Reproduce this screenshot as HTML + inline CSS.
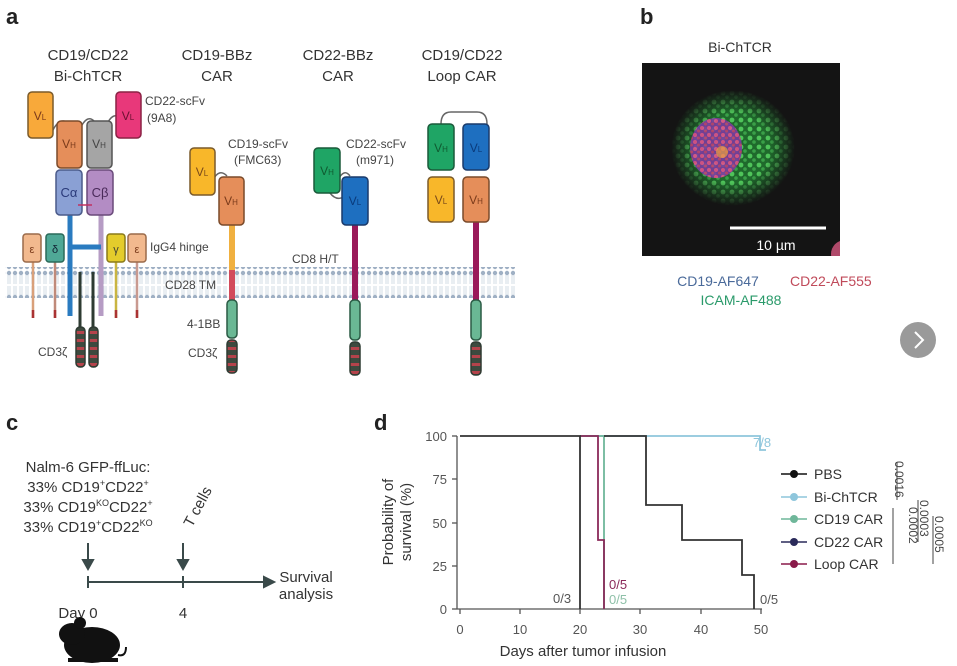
<!DOCTYPE html>
<html><head><meta charset="utf-8"><style>
html,body{margin:0;padding:0;background:#fff}
svg{display:block;font-family:"Liberation Sans",Arial,sans-serif}
</style></head><body>
<svg width="957" height="666" viewBox="0 0 957 666" xmlns="http://www.w3.org/2000/svg">
<defs>
<pattern id="mem" width="6" height="30" patternUnits="userSpaceOnUse">
<circle cx="3" cy="3" r="2.2" fill="#9fb0c4"/><circle cx="3" cy="27" r="2.2" fill="#9fb0c4"/>
<line x1="2" y1="5" x2="2" y2="14" stroke="#c8d3df" stroke-width="0.8"/><line x1="4" y1="5" x2="4" y2="14" stroke="#c8d3df" stroke-width="0.8"/>
<line x1="2" y1="16" x2="2" y2="25" stroke="#c8d3df" stroke-width="0.8"/><line x1="4" y1="16" x2="4" y2="25" stroke="#c8d3df" stroke-width="0.8"/>
</pattern>
<pattern id="z" width="8" height="8" patternUnits="userSpaceOnUse"><rect width="8" height="8" fill="#3d4a3f"/><rect y="3" width="8" height="3" fill="#b5434b"/></pattern>
<pattern id="spk" width="9" height="9" patternUnits="userSpaceOnUse"><rect width="9" height="9" fill="#1f6a2c"/><circle cx="3" cy="3" r="2.4" fill="#4fc45a"/><circle cx="7" cy="7" r="1.8" fill="#3aa048"/></pattern>
<pattern id="spk2" width="7" height="7" patternUnits="userSpaceOnUse"><rect width="7" height="7" fill="#7a3aa0"/><circle cx="2" cy="2" r="2" fill="#e0508a"/><circle cx="5.5" cy="5" r="1.5" fill="#c04070"/></pattern>
<radialGradient id="fade" cx="50%" cy="50%" r="50%"><stop offset="0.6" stop-color="#fff" stop-opacity="1"/><stop offset="1" stop-color="#fff" stop-opacity="0"/></radialGradient>
<mask id="fm"><ellipse cx="733" cy="148" rx="62" ry="58" fill="url(#fade)"/></mask>
<clipPath id="imgc"><rect x="642" y="63" width="198" height="193"/></clipPath>
</defs>
<g font-weight="bold" font-size="22" fill="#222"><text x="6" y="24">a</text><text x="640" y="24">b</text><text x="6" y="430">c</text><text x="374" y="430">d</text></g>

<rect x="5" y="267" width="510" height="31" fill="url(#mem)"/>

<g font-size="15" fill="#333" text-anchor="middle">
<text x="88" y="60">CD19/CD22</text><text x="88" y="81">Bi-ChTCR</text>
<text x="217" y="60">CD19-BBz</text><text x="217" y="81">CAR</text>
<text x="338" y="60">CD22-BBz</text><text x="338" y="81">CAR</text>
<text x="462" y="60">CD19/CD22</text><text x="462" y="81">Loop CAR</text>
</g>

<g stroke-width="1.5">
<line x1="33" y1="262" x2="33" y2="318" stroke="#d9a07a" stroke-width="2.5"/>
<line x1="55" y1="262" x2="55" y2="318" stroke="#c08a7a" stroke-width="2.5"/>
<line x1="116" y1="262" x2="116" y2="318" stroke="#c9b542" stroke-width="2.5"/>
<line x1="137" y1="262" x2="137" y2="318" stroke="#c99a90" stroke-width="2.5"/>
<g stroke="#a33" stroke-width="2.5"><line x1="33" y1="310" x2="33" y2="318"/><line x1="55" y1="310" x2="55" y2="318"/><line x1="116" y1="310" x2="116" y2="318"/><line x1="137" y1="310" x2="137" y2="318"/></g>
<line x1="70" y1="214" x2="70" y2="316" stroke="#2a7bc0" stroke-width="5"/>
<line x1="101" y1="214" x2="101" y2="316" stroke="#b69cc4" stroke-width="5"/>
<line x1="70" y1="247" x2="101" y2="247" stroke="#2a7bc0" stroke-width="5"/>
<line x1="80" y1="272" x2="80" y2="330" stroke="#2e3b32" stroke-width="3"/>
<line x1="93" y1="272" x2="93" y2="330" stroke="#2e3b32" stroke-width="3"/>
<rect x="76" y="327" width="9" height="40" rx="4" fill="url(#z)" stroke="#2e3b32"/>
<rect x="89" y="327" width="9" height="40" rx="4" fill="url(#z)" stroke="#2e3b32"/>
<rect x="23" y="234" width="18" height="28" rx="3" fill="#f2b98e" stroke="#9a6a4a"/>
<rect x="46" y="234" width="18" height="28" rx="3" fill="#4fa896" stroke="#2a6a5a"/>
<rect x="107" y="234" width="18" height="28" rx="3" fill="#e4cc2c" stroke="#8a7a1a"/>
<rect x="128" y="234" width="18" height="28" rx="3" fill="#f2b98e" stroke="#9a6a4a"/>
<path d="M53 130 q6 -12 14 -8 M82 125 q6 -10 12 -4 M108 122 q6 -10 12 -4" fill="none" stroke="#666"/>
<rect x="28" y="92" width="25" height="46" rx="4" fill="#f8a93a" stroke="#7a5a2a"/>
<rect x="116" y="92" width="25" height="46" rx="4" fill="#e8387a" stroke="#8a2244"/>
<rect x="57" y="121" width="25" height="47" rx="4" fill="#e58e5a" stroke="#7a4a2a"/>
<rect x="87" y="121" width="25" height="47" rx="4" fill="#a5a5a5" stroke="#555"/>
<rect x="56" y="170" width="26" height="45" rx="4" fill="#8aa0d4" stroke="#4a5a8a"/>
<rect x="87" y="170" width="26" height="45" rx="4" fill="#b38cc4" stroke="#6a4a7a"/>
<line x1="78" y1="205" x2="92" y2="205" stroke="#c03060"/>
</g>
<g font-size="12" fill="#7a3a1a" text-anchor="middle">
<text x="40" y="120">V<tspan font-size="8">L</tspan></text><text x="128" y="120" fill="#6a1030">V<tspan font-size="8">L</tspan></text>
<text x="69" y="148">V<tspan font-size="8">H</tspan></text><text x="99" y="148" fill="#444">V<tspan font-size="8">H</tspan></text>
<text x="69" y="197" fill="#2a3a7a" font-size="13">Cα</text><text x="100" y="197" fill="#4a2a5a" font-size="13">Cβ</text>
<text x="32" y="253" font-size="11">ε</text><text x="55" y="253" font-size="11" fill="#123">δ</text><text x="116" y="253" font-size="11" fill="#443">γ</text><text x="137" y="253" font-size="11">ε</text>
</g>
<g font-size="12" fill="#444">
<text x="145" y="105">CD22-scFv</text><text x="147" y="122">(9A8)</text>
<text x="150" y="251">IgG4 hinge</text>
<text x="38" y="356">CD3ζ</text>
<text x="228" y="148">CD19-scFv</text><text x="234" y="164">(FMC63)</text>
<text x="165" y="289">CD28 TM</text>
<text x="187" y="328">4-1BB</text>
<text x="188" y="357">CD3ζ</text>
<text x="346" y="148">CD22-scFv</text><text x="356" y="164">(m971)</text>
<text x="292" y="263">CD8 H/T</text>
</g>

<g stroke-width="1.5">
<line x1="232" y1="224" x2="232" y2="270" stroke="#f0b040" stroke-width="6"/>
<line x1="232" y1="270" x2="232" y2="300" stroke="#d24a5a" stroke-width="6"/>
<rect x="227" y="300" width="10" height="38" rx="4" fill="#6ab894" stroke="#2a5a44"/>
<rect x="227" y="340" width="10" height="33" rx="4" fill="url(#z)" stroke="#2e3b32"/>
<path d="M213 180 q6 -12 14 -4" fill="none" stroke="#666"/>
<rect x="190" y="148" width="25" height="47" rx="4" fill="#f8b72a" stroke="#7a5a2a"/>
<rect x="219" y="177" width="25" height="48" rx="4" fill="#e58e5a" stroke="#7a4a2a"/>
</g>
<g stroke-width="1.5">
<line x1="355" y1="224" x2="355" y2="300" stroke="#9a1a5a" stroke-width="6"/>
<rect x="350" y="300" width="10" height="40" rx="4" fill="#6ab894" stroke="#2a5a44"/>
<rect x="350" y="342" width="10" height="33" rx="4" fill="url(#z)" stroke="#2e3b32"/>
<path d="M338 180 q6 -12 12 -4 M330 193 q6 8 14 4" fill="none" stroke="#666"/>
<rect x="314" y="148" width="26" height="45" rx="4" fill="#1fa565" stroke="#1a5a3a"/>
<rect x="342" y="177" width="26" height="48" rx="4" fill="#1e6fc0" stroke="#1a3a6a"/>
</g>
<g stroke-width="1.5">
<line x1="476" y1="222" x2="476" y2="300" stroke="#9a1a5a" stroke-width="6"/>
<rect x="471" y="300" width="10" height="40" rx="4" fill="#6ab894" stroke="#2a5a44"/>
<rect x="471" y="342" width="10" height="33" rx="4" fill="url(#z)" stroke="#2e3b32"/>
<path d="M441 124 q0 -12 10 -12 h26 q10 0 10 12" fill="none" stroke="#666"/>
<rect x="428" y="124" width="26" height="46" rx="4" fill="#1fa565" stroke="#1a5a3a"/>
<rect x="463" y="124" width="26" height="46" rx="4" fill="#1e6fc0" stroke="#1a3a6a"/>
<rect x="428" y="177" width="26" height="45" rx="4" fill="#f8b72a" stroke="#7a5a2a"/>
<rect x="463" y="177" width="26" height="45" rx="4" fill="#e58e5a" stroke="#7a4a2a"/>
</g>
<g font-size="12" text-anchor="middle">
<text x="202" y="176" fill="#7a4a1a">V<tspan font-size="8">L</tspan></text><text x="231" y="205" fill="#7a3a1a">V<tspan font-size="8">H</tspan></text>
<text x="327" y="175" fill="#0f5a30">V<tspan font-size="8">H</tspan></text><text x="355" y="205" fill="#0a3a7a">V<tspan font-size="8">L</tspan></text>
<text x="441" y="152" fill="#0f5a30">V<tspan font-size="8">H</tspan></text><text x="476" y="152" fill="#0a3a7a">V<tspan font-size="8">L</tspan></text>
<text x="441" y="204" fill="#7a4a1a">V<tspan font-size="8">L</tspan></text><text x="476" y="204" fill="#7a3a1a">V<tspan font-size="8">H</tspan></text>
</g>

<text x="740" y="52" font-size="14" fill="#333" text-anchor="middle">Bi-ChTCR</text>
<g clip-path="url(#imgc)">
<rect x="642" y="63" width="198" height="193" fill="#141414"/>
<ellipse cx="733" cy="148" rx="62" ry="58" fill="url(#spk)" mask="url(#fm)"/>
<ellipse cx="716" cy="148" rx="26" ry="30" fill="url(#spk2)" opacity="0.9"/>
<circle cx="722" cy="152" r="6" fill="#e8a040" opacity="0.7"/>
<circle cx="845" cy="254" r="14" fill="#b04a6a"/>
</g>
<line x1="730" y1="228" x2="826" y2="228" stroke="#fff" stroke-width="3"/>
<text x="776" y="250" font-size="14" fill="#fff" text-anchor="middle">10 µm</text>
<text x="718" y="286" font-size="14" fill="#4a6a9a" text-anchor="middle">CD19-AF647</text>
<text x="790" y="286" font-size="14" fill="#c04a5a">CD22-AF555</text>
<text x="741" y="305" font-size="14" fill="#2a9a6a" text-anchor="middle">ICAM-AF488</text>
<circle cx="918" cy="340" r="18" fill="#9a9a9a"/>
<path d="M915 332 l8 8 l-8 8" fill="none" stroke="#fff" stroke-width="2"/>

<g font-size="15" fill="#333" text-anchor="middle">
<text x="88" y="472">Nalm-6 GFP-ffLuc:</text>
<text x="88" y="492">33% CD19<tspan font-size="9" dy="-6">+</tspan><tspan dy="6">CD22</tspan><tspan font-size="9" dy="-6">+</tspan></text>
<text x="88" y="512">33% CD19<tspan font-size="9" dy="-6">KO</tspan><tspan dy="6">CD22</tspan><tspan font-size="9" dy="-6">+</tspan></text>
<text x="88" y="532">33% CD19<tspan font-size="9" dy="-6">+</tspan><tspan dy="6">CD22</tspan><tspan font-size="9" dy="-6">KO</tspan></text>
<text transform="translate(192,528) rotate(-62)" text-anchor="start">T cells</text>
<text x="78" y="618">Day 0</text><text x="183" y="618">4</text>
<text x="306" y="582">Survival</text><text x="306" y="599">analysis</text>
</g>
<g stroke="#3a4a4a" stroke-width="2" fill="#3a4a4a">
<line x1="88" y1="543" x2="88" y2="563"/><path d="M83 560 l5 9 l5 -9z"/>
<line x1="183" y1="543" x2="183" y2="563"/><path d="M178 560 l5 9 l5 -9z"/>
<line x1="88" y1="582" x2="266" y2="582"/><path d="M264 577 l10 5 l-10 5z"/>
<line x1="88" y1="576" x2="88" y2="588"/><line x1="183" y1="576" x2="183" y2="588"/>
</g>
<g fill="#111">
<ellipse cx="92" cy="645" rx="28" ry="18"/>
<ellipse cx="72" cy="634" rx="13" ry="11"/>
<circle cx="80" cy="623" r="6"/>
<path d="M118 655 q8 2 8 -8" fill="none" stroke="#111" stroke-width="2"/>
<rect x="68" y="658" width="50" height="4"/>
</g>

<g stroke="#555" stroke-width="1.3" fill="none">
<line x1="457" y1="436" x2="457" y2="609"/>
<line x1="457" y1="609" x2="762" y2="609"/>
<line x1="452" y1="436" x2="457" y2="436"/><line x1="452" y1="479" x2="457" y2="479"/><line x1="452" y1="523" x2="457" y2="523"/><line x1="452" y1="566" x2="457" y2="566"/><line x1="452" y1="609" x2="457" y2="609"/>
<line x1="460" y1="609" x2="460" y2="614"/><line x1="520" y1="609" x2="520" y2="614"/><line x1="580" y1="609" x2="580" y2="614"/><line x1="640" y1="609" x2="640" y2="614"/><line x1="701" y1="609" x2="701" y2="614"/><line x1="761" y1="609" x2="761" y2="614"/>
</g>
<g font-size="13" fill="#555">
<g text-anchor="end"><text x="447" y="441">100</text><text x="447" y="484">75</text><text x="447" y="528">50</text><text x="447" y="571">25</text><text x="447" y="614">0</text></g>
<g text-anchor="middle"><text x="460" y="634">0</text><text x="520" y="634">10</text><text x="580" y="634">20</text><text x="640" y="634">30</text><text x="701" y="634">40</text><text x="761" y="634">50</text></g>
</g>
<text x="583" y="656" font-size="15" fill="#333" text-anchor="middle">Days after tumor infusion</text>
<text transform="translate(393,522) rotate(-90)" font-size="15" fill="#333" text-anchor="middle">Probability of</text>
<text transform="translate(411,522) rotate(-90)" font-size="15" fill="#333" text-anchor="middle">survival (%)</text>
<g fill="none" stroke-width="1.8">
<polyline points="580,436 760,436 760,450 766,450" stroke="#8ec6dc"/>
<polyline points="580,436 604,436 604,609" stroke="#6fb79a"/>
<polyline points="580,436 598,436 598,540 604,540 604,609" stroke="#8a2a5a"/>
<polyline points="460,436 580,436 580,609" stroke="#333"/>
<polyline points="604,436 646,436 646,505 682,505 682,540 742,540 742,575 754,575 754,609" stroke="#333"/>
</g>
<g font-size="13">
<text x="753" y="447" fill="#8ec6dc">7/8</text>
<text x="553" y="603" fill="#555">0/3</text>
<text x="609" y="589" fill="#8a2a5a">0/5</text>
<text x="609" y="604" fill="#8ec0a8">0/5</text>
<text x="760" y="604" fill="#555">0/5</text>
</g>
<g stroke-width="1.6">
<line x1="781" y1="474" x2="807" y2="474" stroke="#111"/><circle cx="794" cy="474" r="4" fill="#111"/>
<line x1="781" y1="497" x2="807" y2="497" stroke="#8ec6dc"/><circle cx="794" cy="497" r="4" fill="#8ec6dc"/>
<line x1="781" y1="519" x2="807" y2="519" stroke="#6fb79a"/><circle cx="794" cy="519" r="4" fill="#6fb79a"/>
<line x1="781" y1="542" x2="807" y2="542" stroke="#2a2a5a"/><circle cx="794" cy="542" r="4" fill="#2a2a5a"/>
<line x1="781" y1="564" x2="807" y2="564" stroke="#8a1a4a"/><circle cx="794" cy="564" r="4" fill="#8a1a4a"/>
</g>
<g font-size="14" fill="#333">
<text x="814" y="479">PBS</text><text x="814" y="502">Bi-ChTCR</text><text x="814" y="524">CD19 CAR</text><text x="814" y="547">CD22 CAR</text><text x="814" y="569">Loop CAR</text>
</g>
<g font-size="12" fill="#444">
<text transform="translate(895,461) rotate(90)">0.0016</text>
<text transform="translate(909,507) rotate(90)">0.0002</text>
<text transform="translate(920,500) rotate(90)">0.0003</text>
<text transform="translate(935,516) rotate(90)">0.0005</text>
</g>
<g stroke="#444" stroke-width="1">
<line x1="897" y1="462" x2="897" y2="500"/><line x1="893" y1="508" x2="893" y2="564"/><line x1="918" y1="500" x2="918" y2="542"/><line x1="933" y1="516" x2="933" y2="564"/>
</g>
</svg>
</body></html>
